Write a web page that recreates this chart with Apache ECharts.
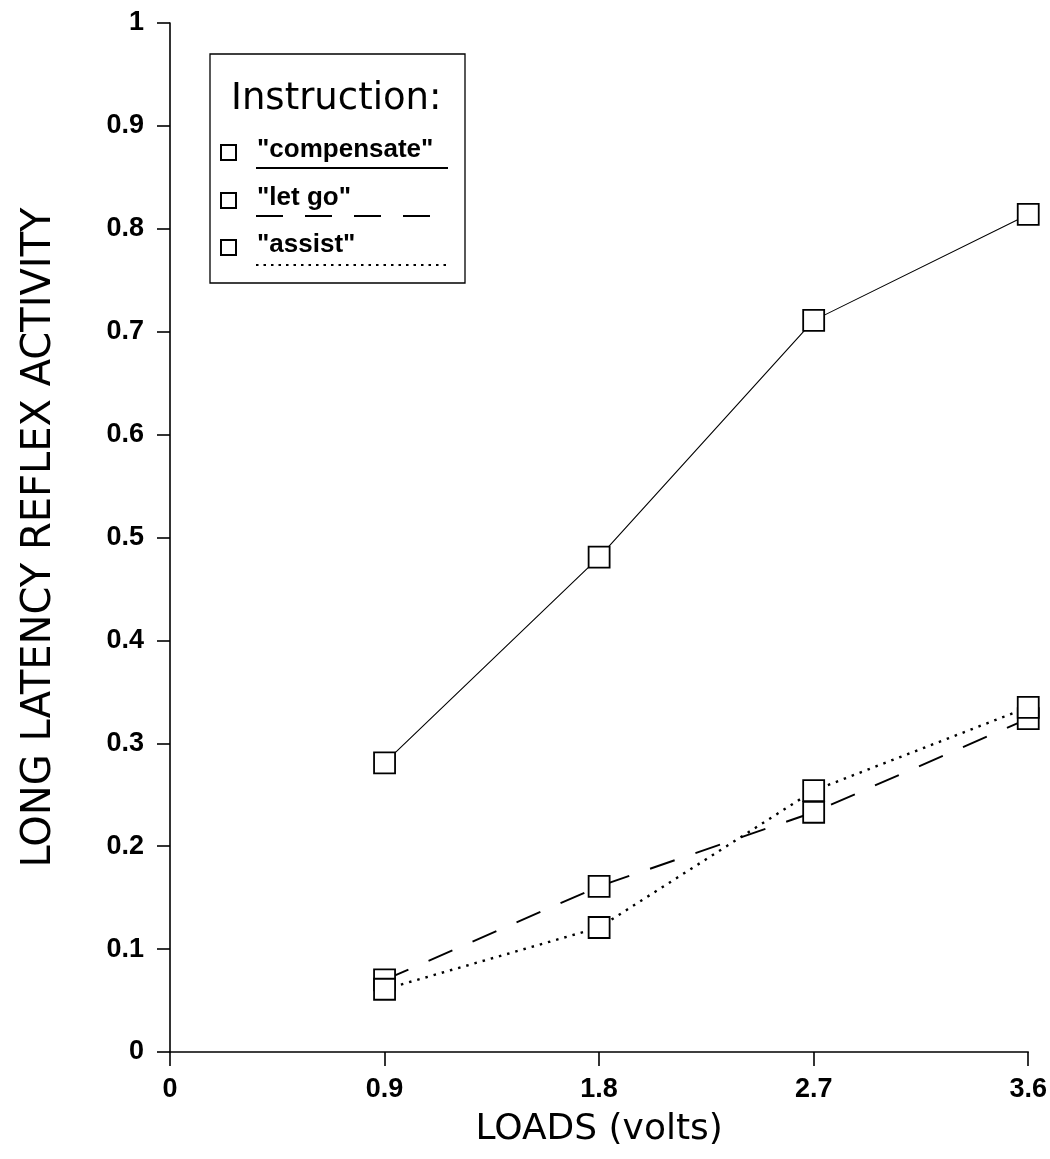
<!DOCTYPE html>
<html>
<head>
<meta charset="utf-8">
<script src="https://cdn.jsdelivr.net/npm/echarts@6/dist/echarts.min.js"></script>
<style>
html,body{margin:0;padding:0;background:#fff;}
#chart{width:1050px;height:1159px;}
</style>
</head>
<body>
<div id="chart"></div>
<script>
var loads = [0.9, 1.8, 2.7, 3.6];
var compensate = [0.281, 0.481, 0.711, 0.814];
var letGo = [0.070, 0.161, 0.233, 0.324];
var assist = [0.061, 0.121, 0.254, 0.335];
var seriesNames = ['"compensate"', '"let go"', '"assist"'];
var legendTitle = 'Instruction:';
var xTitle = 'LOADS (volts)';
var yTitle = 'LONG LATENCY REFLEX ACTIVITY';

function pairs(vals){ return loads.map(function(x,i){ return [x, vals[i]]; }); }
function fmt(v){ return v === 0 ? '0' : (Math.abs(v - 1) < 1e-9 ? '1' : v.toFixed(1)); }

var chart = echarts.init(document.getElementById('chart'));
var font = 'Liberation Sans, Arial, sans-serif';
var wide = 'DejaVu Sans, Verdana, sans-serif';
var markStyle = {color:'#fff', borderColor:'#000', borderWidth:1.8};
function mk(name, vals, width, dash){
  return {
    name:name, type:'line', data:pairs(vals), symbol:'rect', symbolSize:21,
    itemStyle:markStyle, z:3,
    lineStyle:{color:'#000', width:width, type:dash},
    emphasis:{disabled:true}, animation:false
  };
}
chart.setOption({
  backgroundColor:'#fff',
  animation:false,
  grid:{left:170, right:15, top:23, bottom:107, containLabel:false},
  xAxis:{
    type:'value', min:0, max:3.6, interval:0.9,
    name:xTitle, nameLocation:'middle', nameGap:60,
    nameTextStyle:{fontFamily:wide, fontSize:36, color:'#000'},
    axisLine:{lineStyle:{color:'#000', width:1.6}},
    axisTick:{show:true, length:14, lineStyle:{color:'#000', width:1.6}},
    axisLabel:{formatter:fmt, fontFamily:font, fontWeight:'bold', fontSize:27, color:'#000', margin:24},
    splitLine:{show:false}
  },
  yAxis:{
    type:'value', min:0, max:1, interval:0.1,
    name:yTitle, nameLocation:'middle', nameGap:110,
    nameTextStyle:{fontFamily:wide, fontSize:40, color:'#000'},
    axisLine:{lineStyle:{color:'#000', width:1.6}},
    axisTick:{show:true, length:13, lineStyle:{color:'#000', width:1.6}},
    axisLabel:{formatter:fmt, fontFamily:font, fontWeight:'bold', fontSize:27, color:'#000', margin:26},
    splitLine:{show:false}
  },
  series:[
    mk(seriesNames[0], compensate, 1.1, 'solid'),
    mk(seriesNames[1], letGo, 1.9, [26,22]),
    mk(seriesNames[2], assist, 2.4, [2.5,6])
  ],
  graphic:[
    {type:'rect', shape:{x:210, y:54, width:255, height:229}, style:{fill:'#fff', stroke:'#000', lineWidth:1.3}, z:10},
    {type:'text', left:231, top:81, style:{text:legendTitle, font:'37px '+wide, fill:'#000'}, z:11},
    {type:'rect', shape:{x:221, y:145, width:15, height:15}, style:{fill:'#fff', stroke:'#000', lineWidth:2}, z:11},
    {type:'text', left:257, top:137, style:{text:seriesNames[0], font:'bold 26px '+font, fill:'#000'}, z:11},
    {type:'line', shape:{x1:256, y1:168, x2:448, y2:168}, style:{stroke:'#000', lineWidth:1.8}, z:11},
    {type:'rect', shape:{x:221, y:193, width:15, height:15}, style:{fill:'#fff', stroke:'#000', lineWidth:2}, z:11},
    {type:'text', left:257, top:185, style:{text:seriesNames[1], font:'bold 26px '+font, fill:'#000'}, z:11},
    {type:'line', shape:{x1:256, y1:216, x2:448, y2:216}, style:{stroke:'#000', lineWidth:1.8, lineDash:[27,22]}, z:11},
    {type:'rect', shape:{x:221, y:240, width:15, height:15}, style:{fill:'#fff', stroke:'#000', lineWidth:2}, z:11},
    {type:'text', left:257, top:232, style:{text:seriesNames[2], font:'bold 26px '+font, fill:'#000'}, z:11},
    {type:'line', shape:{x1:256, y1:265, x2:448, y2:265}, style:{stroke:'#000', lineWidth:2.2, lineDash:[2.5,5]}, z:11}
  ]
});
</script>
</body>
</html>
